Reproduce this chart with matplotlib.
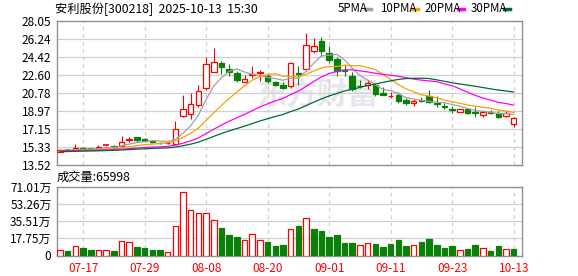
import numpy as np
import pandas as pd
import matplotlib
matplotlib.use('Agg')
import matplotlib.pyplot as plt
from matplotlib.patches import Rectangle
from matplotlib.lines import Line2D

plt.rcParams['font.family'] = ['Noto Sans CJK SC', 'DejaVu Sans']

# trading days shown
dates = ['07-14', '07-15', '07-16', '07-17', '07-18', '07-21', '07-22', '07-23', '07-24', '07-25',
         '07-28', '07-29', '07-30', '07-31', '08-01', '08-04', '08-05', '08-06', '08-07', '08-08',
         '08-11', '08-12', '08-13', '08-14', '08-15', '08-18', '08-19', '08-20', '08-21', '08-22',
         '08-25', '08-26', '08-27', '08-28', '08-29', '09-01', '09-02', '09-03', '09-04', '09-05',
         '09-08', '09-09', '09-10', '09-11', '09-12', '09-15', '09-16', '09-17', '09-18', '09-19',
         '09-22', '09-23', '09-24', '09-25', '09-26', '09-29', '09-30', '10-09', '10-10', '10-13']

opens = [14.88, 15.00, 15.06, 15.20, 15.15, 15.13, 15.48, 15.45, 15.44, 16.08,
         16.31, 16.14, 15.90, 15.75, 15.72, 15.65, 18.46, 18.67, 19.57, 21.32,
         22.93, 23.84, 23.25, 22.85, 21.93, 22.57, 22.80, 22.47, 21.92, 21.60,
         21.50, 22.78, 23.20, 25.05, 26.03, 24.85, 24.18, 23.06, 22.50, 21.52,
         21.56, 21.59, 20.80, 20.45, 20.58, 20.08, 19.74, 20.05, 20.48, 19.80,
         19.45, 19.20, 18.87, 19.14, 18.82, 18.56, 18.90, 18.80, 18.46, 17.63]
highs = [15.12, 15.05, 15.62, 15.37, 15.25, 15.55, 15.60, 15.50, 16.44, 16.31,
         16.35, 16.20, 15.95, 15.85, 15.85, 17.96, 20.58, 20.75, 21.60, 24.45,
         25.30, 24.04, 23.75, 23.05, 22.60, 23.50, 23.10, 22.70, 21.95, 21.90,
         23.95, 23.50, 26.87, 26.30, 26.47, 25.50, 24.45, 23.70, 22.93, 22.05,
         22.10, 21.76, 21.42, 20.92, 20.92, 20.25, 20.15, 20.35, 21.10, 20.45,
         19.81, 19.47, 19.20, 19.20, 19.35, 19.07, 19.05, 18.92, 19.00, 18.33]
lows = [14.85, 14.92, 15.02, 15.03, 15.05, 15.08, 15.40, 15.30, 15.40, 15.84,
        15.84, 15.90, 15.80, 15.60, 15.65, 15.60, 18.36, 18.19, 19.40, 21.09,
        22.90, 22.67, 22.45, 21.93, 21.85, 22.25, 22.00, 21.75, 21.45, 21.20,
        21.32, 21.60, 23.00, 24.85, 24.50, 23.85, 22.45, 22.45, 21.00, 21.25,
        21.16, 20.50, 20.60, 20.25, 19.74, 19.57, 19.50, 19.90, 19.74, 19.40,
        19.14, 18.75, 18.85, 18.70, 18.33, 18.35, 18.70, 18.22, 18.40, 17.38]
closes = [15.08, 14.97, 15.26, 15.15, 15.12, 15.30, 15.52, 15.38, 15.84, 16.12,
          16.07, 15.98, 15.86, 15.70, 15.78, 17.14, 19.17, 19.68, 20.99, 23.68,
          23.88, 23.44, 22.93, 22.10, 22.15, 22.70, 22.86, 21.95, 21.57, 21.30,
          23.78, 22.68, 25.63, 25.53, 25.05, 24.12, 23.04, 23.00, 21.16, 21.47,
          21.83, 20.68, 20.62, 20.50, 20.00, 19.75, 20.01, 19.98, 19.92, 19.72,
          19.38, 19.12, 19.14, 18.76, 18.72, 18.87, 18.78, 18.40, 18.80, 18.23]
# volume in 万手
volumes = [6.2, 4.5, 10.3, 7.5, 5.5, 6.2, 6.2, 4.5, 15.5, 13.7,
           8.6, 7.5, 5.5, 5.5, 4.1, 30.2, 66.3, 46.7, 44.3, 44.3,
           37.1, 28.2, 21.0, 18.9, 16.5, 22.0, 16.5, 13.7, 9.6, 10.7,
           27.8, 30.2, 39.1, 27.1, 25.0, 18.9, 21.0, 13.0, 13.0, 11.3,
           13.4, 11.7, 8.6, 11.7, 15.8, 9.6, 11.3, 13.7, 16.8, 10.7,
           7.5, 9.6, 5.2, 6.5, 10.7, 8.2, 4.5, 9.6, 7.2, 6.6]
# closes before 07-14, estimated from where the MA lines start
prior_closes = [14.55, 14.60, 14.70, 14.65, 14.75, 14.80, 14.70, 14.75, 14.85, 14.80,
                14.90, 14.85, 14.80, 14.90, 14.95, 14.85, 14.90, 14.95, 15.00, 14.90,
                14.95, 15.00, 14.95, 14.90, 15.00, 15.05, 14.95, 15.00, 14.98]

price_ticks = [13.52, 15.33, 17.15, 18.97, 20.78, 22.60, 24.42, 26.24, 28.05]
vol_ticks = [0, 17.75, 35.51, 53.26, 71.01]
vol_labels = ['0', '17.75万', '35.51万', '53.26万', '71.01万']
date_ticks = ['07-17', '07-29', '08-08', '08-20', '09-01', '09-11', '09-23', '10-13']
ma_periods = [5, 10, 20, 30]
ma_colors = ['#a0a0a0', '#f5a200', '#ff00ff', '#006b32']
title = '安利股份[300218]  2025-10-13  15:30'
last_vol = '65998'

RED = '#ff0000'
GREEN = '#0a800a'
GRID = '#d0d0d0'
FRAME = '#909090'

W, H = 578, 276
fig = plt.figure(figsize=(W / 100, H / 100), dpi=100)


def box(l, t, r, b):
    return [l / W, 1 - b / H, (r - l) / W, (b - t) / H]


ax = fig.add_axes(box(57, 21, 522, 165))
axv = fig.add_axes(box(57, 187, 522, 255.5))

n = len(closes)
x = np.arange(n)
tick_pos = [dates.index(d) for d in date_ticks]
bw = 0.72

# candles
for i in range(n):
    o, h, l, c = opens[i], highs[i], lows[i], closes[i]
    up = c >= o
    col = RED if up else GREEN
    ax.vlines(i, l, h, color=col, lw=0.8, zorder=2)
    if abs(c - o) < 0.04:
        ax.hlines((o + c) / 2, i - bw / 2, i + bw / 2, color=col, lw=1.2, zorder=3)
    else:
        ax.add_patch(Rectangle((i - bw / 2, min(o, c)), bw, abs(c - o),
                               facecolor='white' if up else GREEN, edgecolor=col,
                               lw=0.9, zorder=3))

# moving averages
all_close = pd.Series(prior_closes + closes)
for p, col in zip(ma_periods, ma_colors):
    ma = all_close.rolling(p).mean().values[-n:]
    ax.plot(x, ma, color=col, lw=0.9, zorder=4)

# watermark
ax.text(0.56, 0.49, '东方财富', transform=ax.transAxes, fontsize=22, fontweight='bold',
        color='#e6e6ec', ha='center', va='center', zorder=0)

# volume bars, colour by change from previous close
for i in range(n):
    prev = closes[i - 1] if i > 0 else opens[i]
    up = closes[i] >= prev
    col = RED if up else GREEN
    axv.bar(i, volumes[i], width=bw, facecolor='white' if up else GREEN,
            edgecolor=col, lw=0.9, zorder=3)

for a in (ax, axv):
    a.set_xlim(-0.39, 60.08)
    for t in tick_pos:
        a.axvline(t, color=GRID, lw=0.9, ls=(0, (3, 3)), zorder=1)
    for s in a.spines.values():
        s.set_color(FRAME)
        s.set_linewidth(1.0)
    a.tick_params(length=0, labelsize=8.5, pad=4)

ax.set_ylim(price_ticks[0], price_ticks[-1])
ax.set_yticks(price_ticks)
ax.set_yticklabels(['%.2f' % v for v in price_ticks])
for v in price_ticks[1:-1]:
    ax.axhline(v, color=GRID, lw=0.9, zorder=1)
ax.set_xticks([])

axv.set_ylim(vol_ticks[0], vol_ticks[-1])
axv.set_yticks(vol_ticks)
axv.set_yticklabels(vol_labels)
for v in vol_ticks[1:-1]:
    axv.axhline(v, color=GRID, lw=0.9, zorder=1)
axv.set_xticks(tick_pos)
axv.set_xticklabels(date_ticks, color=RED)
axv.tick_params(axis='x', pad=5)

# header texts
fig.text(55 / W, 1 - 9 / H, title, fontsize=8.8, ha='left', va='center')
fig.text(57 / W, 1 - 177 / H, '成交量:' + last_vol, fontsize=8.8, ha='left', va='center')

legend_x = [338, 380, 425, 471]
dash_x = [365, 412, 458, 504]
for p, col, tx, dx in zip(ma_periods, ma_colors, legend_x, dash_x):
    fig.text(tx / W, 1 - 9 / H, '%dPMA' % p, fontsize=8.3, ha='left', va='center')
    fig.add_artist(Line2D([dx / W, (dx + 6) / W], [1 - 9 / H, 1 - 9 / H], color=col, lw=2.5))

fig.savefig('out.png', dpi=100)
